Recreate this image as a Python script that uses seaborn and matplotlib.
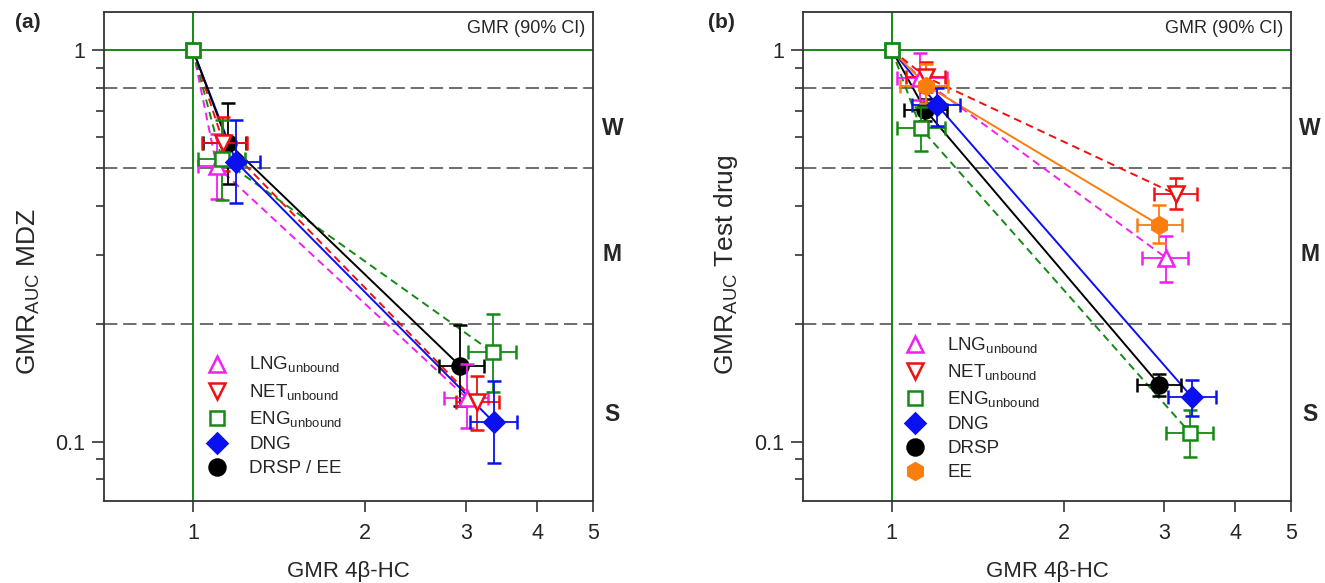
import numpy as np
import pandas as pd
import matplotlib
matplotlib.use("Agg")
import matplotlib.pyplot as plt
import seaborn as sns
from matplotlib.lines import Line2D
from matplotlib.ticker import FixedLocator, FixedFormatter, NullFormatter

# ---------------- data ----------------
# Panel (a): midazolam (MDZ) AUC ratio vs. 4beta-hydroxycholesterol ratio
drugs_a = ["LNG", "NET", "ENG", "DNG", "DRSP / EE"]
hc_a = [[1.10, 3.01], [1.13, 3.13], [1.124, 3.34], [1.19, 3.355], [1.15, 2.93]]
hc_lo_a = [[1.02, 2.75], [1.037, 2.88], [1.022, 3.02], [1.10, 3.05], [1.043, 2.69]]
hc_hi_a = [[1.19, 3.28], [1.245, 3.42], [1.235, 3.67], [1.31, 3.69], [1.24, 3.22]]
auc_a = [[0.505, 0.129], [0.58, 0.126], [0.525, 0.169], [0.517, 0.112], [0.58, 0.156]]
auc_lo_a = [[0.415, 0.108], [0.49, 0.107], [0.414, 0.134], [0.406, 0.088], [0.454, 0.123]]
auc_hi_a = [[0.61, 0.158], [0.675, 0.147], [0.663, 0.212], [0.663, 0.143], [0.73, 0.198]]

# Panel (b): test drug AUC ratio vs. 4beta-hydroxycholesterol ratio
drugs_b = ["LNG", "NET", "ENG", "DNG", "DRSP", "EE"]
hc_b = [[1.12, 3.02], [1.148, 3.146], [1.124, 3.33], [1.20, 3.355], [1.144, 2.944], [1.15, 2.944]]
hc_lo_b = [[1.02, 2.75], [1.06, 2.88], [1.02, 3.02], [1.084, 3.05], [1.051, 2.69], [1.034, 2.69]]
hc_hi_b = [[1.25, 3.31], [1.24, 3.43], [1.24, 3.66], [1.317, 3.70], [1.248, 3.21], [1.255, 3.22]]
auc_b = [[0.85, 0.295], [0.852, 0.428], [0.631, 0.1053], [0.724, 0.130], [0.703, 0.1395], [0.811, 0.357]]
auc_lo_b = [[0.745, 0.255], [0.78, 0.392], [0.553, 0.0914], [0.64, 0.116], [0.66, 0.1305], [0.73, 0.322]]
auc_hi_b = [[0.98, 0.335], [0.93, 0.471], [0.714, 0.1205], [0.80, 0.144], [0.75, 0.149], [0.92, 0.401]]

labels_a = ["LNG$_{\\mathregular{unbound}}$", "NET$_{\\mathregular{unbound}}$",
            "ENG$_{\\mathregular{unbound}}$", "DNG", "DRSP / EE"]
labels_b = ["LNG$_{\\mathregular{unbound}}$", "NET$_{\\mathregular{unbound}}$",
            "ENG$_{\\mathregular{unbound}}$", "DNG", "DRSP", "EE"]

x_ticks = [1, 2, 3, 4, 5]
y_major = [0.1, 1]
y_minor = [0.08, 0.09, 0.2, 0.3, 0.4, 0.5, 0.6, 0.7, 0.8, 0.9]
limit_lines = [0.8, 0.5, 0.2]
zones = ["W", "M", "S"]
zone_y = [0.63, 0.30, 0.117]

# ---------------- styles ----------------
GREEN = "#138a13"
styles = {
    "LNG": dict(color="#f020f0", marker="^", filled=False, dashed=True, ms=11),
    "NET": dict(color="#f01010", marker="v", filled=False, dashed=True, ms=11),
    "ENG": dict(color=GREEN, marker="s", filled=False, dashed=True, ms=9.5),
    "DNG": dict(color="#0a10f0", marker="D", filled=True, dashed=False, ms=10),
    "DRSP": dict(color="#000000", marker="o", filled=True, dashed=False, ms=11.5),
    "DRSP / EE": dict(color="#000000", marker="o", filled=True, dashed=False, ms=11.5),
    "EE": dict(color="#fb7d0e", marker="h", filled=True, dashed=False, ms=12),
}

sns.set_theme(style="ticks")
plt.rcParams["font.family"] = ["Liberation Sans", "DejaVu Sans"]
plt.rcParams["mathtext.fontset"] = "custom"
plt.rcParams["mathtext.rm"] = "Liberation Sans"

fig = plt.figure(figsize=(13.25, 5.83), dpi=100)
ax_a = fig.add_axes([0.0787, 0.1407, 0.3688, 0.8388])
ax_b = fig.add_axes([0.6063, 0.1407, 0.3678, 0.8388])


def draw_panel(ax, drugs, labels, hc, hc_lo, hc_hi, auc, auc_lo, auc_hi, ylabel,
               legend_anchor, ylabel_x):
    ax.set_xscale("log")
    ax.set_yscale("log")
    ax.set_xlim(0.7, 5)
    ax.set_ylim(0.0705, 1.25)

    # reference lines
    ax.axhline(1, color=GREEN, lw=1.4, zorder=1)
    ax.axvline(1, color=GREEN, lw=1.4, zorder=1)
    for v in limit_lines:
        ax.axhline(v, color="#555555", lw=1.2, dashes=(8, 3.5), zorder=1)

    # connecting lines from the reference point (1, 1)
    rows = []
    for i, d in enumerate(drugs):
        rows.append(dict(drug=d, step=0, x=1.0, y=1.0))
        for k in range(2):
            rows.append(dict(drug=d, step=k + 1, x=hc[i][k], y=auc[i][k]))
    df = pd.DataFrame(rows)
    palette = {d: styles[d]["color"] for d in drugs}
    dash_map = {d: ((4, 2.6) if styles[d]["dashed"] else "") for d in drugs}
    sns.lineplot(data=df, x="x", y="y", hue="drug", style="drug", palette=palette,
                 dashes=dash_map, sort=False, estimator=None, legend=False,
                 linewidth=1.4, ax=ax, zorder=2)

    # points with 90% CI in both directions (black drawn underneath the others)
    handles = []
    for i, d in enumerate(drugs):
        st = styles[d]
        c = st["color"]
        mfc = c if st["filled"] else "white"
        z = 2.8 if d.startswith("DRSP") else 3
        for k in range(2):
            x, y = hc[i][k], auc[i][k]
            ax.errorbar(x, y,
                        xerr=[[x - hc_lo[i][k]], [hc_hi[i][k] - x]],
                        yerr=[[y - auc_lo[i][k]], [auc_hi[i][k] - y]],
                        fmt=st["marker"], color=c, mfc=mfc, mec=c, ms=st["ms"],
                        mew=1.8, elinewidth=1.3, capsize=4.8, capthick=1.3, zorder=z)
        handles.append(Line2D([], [], ls="none", marker=st["marker"], mfc=mfc, mec=c,
                              ms=st["ms"], mew=1.8, label=labels[i]))
    ax.plot([1], [1], marker="s", ls="none", mfc="white", mec=GREEN, ms=9.5, mew=2,
            zorder=5)

    ax.legend(handles=handles, loc="lower left", bbox_to_anchor=legend_anchor,
              frameon=False, fontsize=13.5, labelspacing=0.36, handlelength=1.0,
              handletextpad=1.2, borderaxespad=0)

    # axes styling
    for sp in ax.spines.values():
        sp.set_color("#333333")
        sp.set_linewidth(1.3)
    ax.xaxis.set_major_locator(FixedLocator(x_ticks))
    ax.xaxis.set_major_formatter(FixedFormatter([str(t) for t in x_ticks]))
    ax.xaxis.set_minor_locator(FixedLocator([]))
    ax.yaxis.set_major_locator(FixedLocator(y_major))
    ax.yaxis.set_major_formatter(FixedFormatter(["0.1", "1"]))
    ax.yaxis.set_minor_locator(FixedLocator(y_minor))
    ax.yaxis.set_minor_formatter(NullFormatter())
    ax.tick_params(axis="x", which="major", direction="out", length=8, width=1.2,
                   color="#333333", labelsize=15.5, pad=8)
    ax.tick_params(axis="y", which="major", direction="out", length=9, width=1.2,
                   color="#333333", labelsize=15.5, pad=5)
    ax.tick_params(axis="y", which="minor", direction="out", length=5.5, width=1.2,
                   color="#333333")
    ax.grid(False)

    ax.set_xlabel("GMR 4\u03b2-HC", fontsize=16, labelpad=12)
    ax.set_ylabel("")
    # y label starts at a fixed height, reading upwards
    fig.text(ylabel_x, 0.357, ylabel, rotation=90, ha="center", va="bottom",
             fontsize=19)

    ax.text(0.985, 0.967, "GMR (90% CI)", transform=ax.transAxes, ha="right",
            va="center", fontsize=13)
    for zt, zy in zip(zones, zone_y):
        ax.text(1.04, zy, zt, transform=ax.get_yaxis_transform(), ha="center",
                va="center", fontsize=16.5, fontweight="bold")


draw_panel(ax_a, drugs_a, labels_a, hc_a, hc_lo_a, hc_hi_a, auc_a, auc_lo_a, auc_hi_a,
           "GMR$_{\\mathregular{AUC}}$ MDZ", (0.197, 0.033), 0.0215)
draw_panel(ax_b, drugs_b, labels_b, hc_b, hc_lo_b, hc_hi_b, auc_b, auc_lo_b, auc_hi_b,
           "GMR$_{\\mathregular{AUC}}$ Test drug", (0.195, 0.025), 0.548)

fig.text(0.011, 0.962, "(a)", fontsize=15, fontweight="bold", ha="left", va="center")
fig.text(0.534, 0.962, "(b)", fontsize=15, fontweight="bold", ha="left", va="center")

fig.savefig("out.png", dpi=100)
